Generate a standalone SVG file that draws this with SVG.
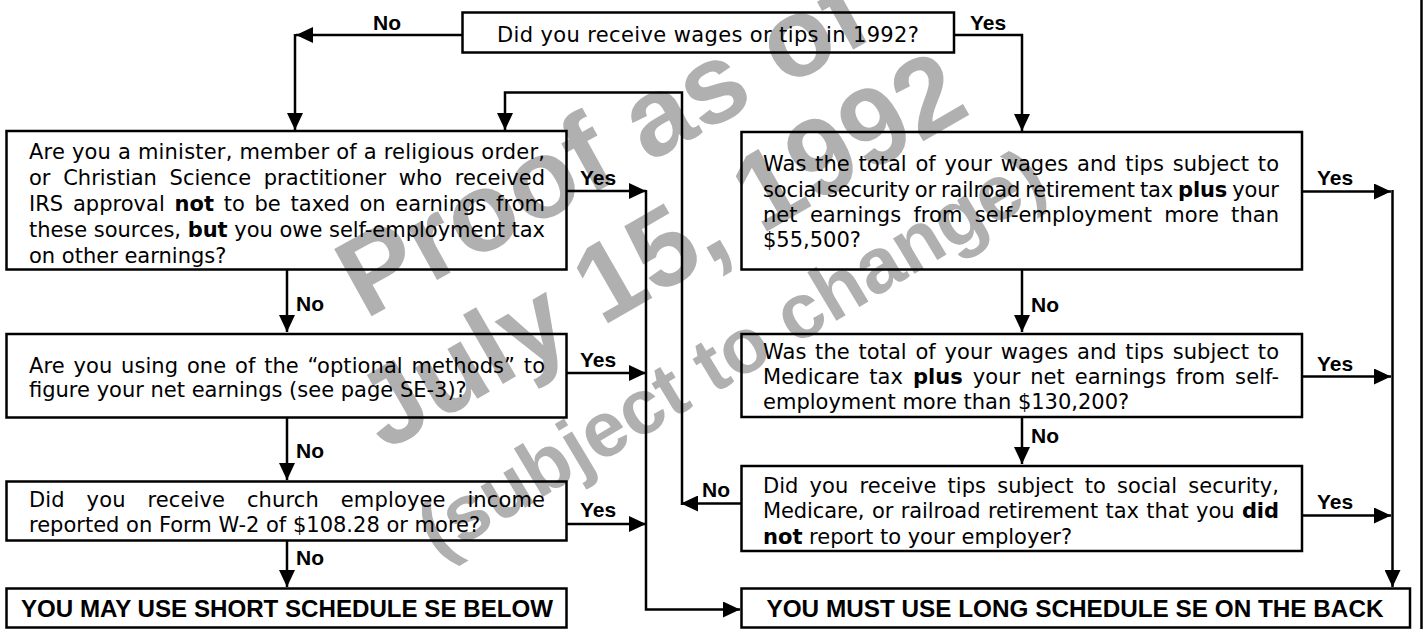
<svg xmlns="http://www.w3.org/2000/svg" width="1424" height="629" viewBox="0 0 1424 629">
<style>
.box{fill:none;stroke:#000;stroke-width:2.5}
.ln{fill:none;stroke:#000;stroke-width:2.5}
.t{font-family:"DejaVu Sans","Liberation Sans",sans-serif;font-size:21px;fill:#000}
.b{font-weight:bold}
.lbl{font-family:"Liberation Sans",Arial,sans-serif;font-size:21px;font-weight:bold;fill:#000}
.big{font-family:"Liberation Sans",Arial,sans-serif;font-size:23px;font-weight:bold;fill:#000}
.wm{font-family:"Liberation Sans",Arial,sans-serif;font-weight:bold;fill:#b0b0b0}
</style>
<defs>
<marker id="ah" markerUnits="userSpaceOnUse" markerWidth="18" markerHeight="16" refX="17" refY="8" orient="auto"><path d="M0,0 L17,8 L0,16 z" fill="#000"/></marker>
</defs>
<rect width="1424" height="629" fill="#fff"/>
<g id="watermark">
<text class="wm" font-size="112" transform="translate(365,320) rotate(-29)">Proof as of</text>
<text class="wm" font-size="110" transform="translate(385,452) rotate(-30)">July 15, 1992</text>
<text class="wm" font-size="78" transform="translate(438,560) rotate(-31)">(subject to change)</text>
</g>
<g id="connectors">
<path class="ln" d="M462,35 H296" marker-end="url(#ah)"/>
<path class="ln" d="M295,34 V130" marker-end="url(#ah)"/>
<path class="ln" d="M954,35 H1022 V131" marker-end="url(#ah)"/>
<path class="ln" d="M741,503.5 H681" marker-end="url(#ah)"/>
<path class="ln" d="M682,505 V92.5 H505 V130" marker-end="url(#ah)"/>
<path class="ln" d="M566,191 H646" marker-end="url(#ah)"/>
<path class="ln" d="M566,373 H646" marker-end="url(#ah)"/>
<path class="ln" d="M566,524 H646" marker-end="url(#ah)"/>
<path class="ln" d="M646,190 V609.5 H740" marker-end="url(#ah)"/>
<path class="ln" d="M287,270 V332" marker-end="url(#ah)"/>
<path class="ln" d="M287,417 V480" marker-end="url(#ah)"/>
<path class="ln" d="M287,541 V587" marker-end="url(#ah)"/>
<path class="ln" d="M1302,191.5 H1391" marker-end="url(#ah)"/>
<path class="ln" d="M1302,376.5 H1391" marker-end="url(#ah)"/>
<path class="ln" d="M1302,515.5 H1391" marker-end="url(#ah)"/>
<path class="ln" d="M1392.5,190 V587" marker-end="url(#ah)"/>
<path class="ln" d="M1022,270 V332" marker-end="url(#ah)"/>
<path class="ln" d="M1022,417 V464" marker-end="url(#ah)"/>
<path class="ln" d="M1421.5,0 V629"/>
<text class="lbl" x="373" y="30">No</text>
<text class="lbl" x="970" y="30">Yes</text>
<text class="lbl" x="580" y="185">Yes</text>
<text class="lbl" x="580" y="367">Yes</text>
<text class="lbl" x="580" y="517">Yes</text>
<text class="lbl" x="296" y="311">No</text>
<text class="lbl" x="296" y="458">No</text>
<text class="lbl" x="296" y="565">No</text>
<text class="lbl" x="1317" y="185">Yes</text>
<text class="lbl" x="1317" y="371">Yes</text>
<text class="lbl" x="1317" y="509">Yes</text>
<text class="lbl" x="1031" y="312">No</text>
<text class="lbl" x="1031" y="443">No</text>
<text class="lbl" x="702" y="497">No</text>
</g>
<g id="n_wages">
<rect class="box" x="462.5" y="12.5" width="491.5" height="40"/>
<text class="t" x="708" y="42" text-anchor="middle" textLength="422">Did you receive wages or tips in 1992?</text>
</g>
<g id="n_minister">
<rect class="box" x="6.5" y="131" width="560" height="138.5"/>
<text class="t" x="29" y="159" textLength="516">Are you a minister, member of a religious order,</text>
<text class="t" x="29" y="185" textLength="516" word-spacing="6">or Christian Science practitioner who received</text>
<text class="t" x="29" y="211" textLength="516" word-spacing="3">IRS approval <tspan class="b">not</tspan> to be taxed on earnings from</text>
<text class="t" x="29" y="237" textLength="516">these sources, <tspan class="b">but</tspan> you owe self-employment tax</text>
<text class="t" x="29" y="263">on other earnings?</text>
</g>
<g id="n_optional">
<rect class="box" x="6.5" y="334" width="560" height="83.5"/>
<text class="t" x="29" y="373" textLength="516" word-spacing="2">Are you using one of the “optional methods” to</text>
<text class="t" x="29" y="397">figure your net earnings (see page SE-3)?</text>
</g>
<g id="n_church">
<rect class="box" x="6.5" y="481.5" width="560" height="59"/>
<text class="t" x="29" y="507" textLength="516" word-spacing="15">Did you receive church employee income</text>
<text class="t" x="29" y="532">reported on Form W-2 of $108.28 or more?</text>
</g>
<g id="n_short">
<rect class="box" x="6.5" y="588.5" width="560" height="39"/>
<text class="big" x="287" y="617" text-anchor="middle" textLength="532" lengthAdjust="spacingAndGlyphs">YOU MAY USE SHORT SCHEDULE SE BELOW</text>
</g>
<g id="n_ss">
<rect class="box" x="741.5" y="132" width="560.5" height="137.5"/>
<text class="t" x="763" y="171" textLength="516" word-spacing="2">Was the total of your wages and tips subject to</text>
<text class="t" x="763" y="196.5" textLength="516" word-spacing="-1.5">social security or railroad retirement tax <tspan class="b">plus</tspan> your</text>
<text class="t" x="763" y="221.5" textLength="516" word-spacing="5.5">net earnings from self-employment more than</text>
<text class="t" x="763" y="246.5">$55,500?</text>
</g>
<g id="n_medicare">
<rect class="box" x="741.5" y="334" width="560.5" height="83"/>
<text class="t" x="763" y="358.5" textLength="516" word-spacing="2">Was the total of your wages and tips subject to</text>
<text class="t" x="763" y="384" textLength="516" word-spacing="3">Medicare tax <tspan class="b">plus</tspan> your net earnings from self-</text>
<text class="t" x="763" y="409">employment more than $130,200?</text>
</g>
<g id="n_tips">
<rect class="box" x="741.5" y="466" width="560.5" height="85"/>
<text class="t" x="763" y="492.5" textLength="516" word-spacing="4.5">Did you receive tips subject to social security,</text>
<text class="t" x="763" y="517.5" textLength="516" word-spacing="1">Medicare, or railroad retirement tax that you <tspan class="b">did</tspan></text>
<text class="t" x="763" y="543.5"><tspan class="b">not</tspan> report to your employer?</text>
</g>
<g id="n_long">
<rect class="box" x="741.5" y="588.5" width="668.5" height="39"/>
<text class="big" x="1075" y="617" text-anchor="middle" textLength="617" lengthAdjust="spacingAndGlyphs">YOU MUST USE LONG SCHEDULE SE ON THE BACK</text>
</g>
</svg>
